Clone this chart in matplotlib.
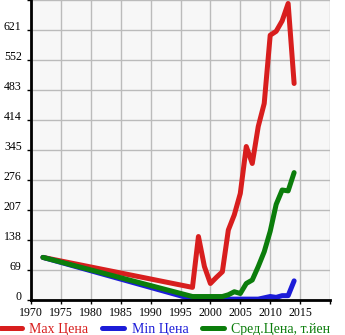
import matplotlib
matplotlib.use("Agg")
import matplotlib.pyplot as plt
from matplotlib.lines import Line2D

years_max = [1972, 1997, 1998, 1999, 2000, 2001, 2002, 2003, 2004, 2005, 2006,
             2007, 2008, 2009, 2010, 2011, 2012, 2013, 2014]
max_price = [98, 29, 146, 77, 38, 52, 65, 161, 196, 245, 353,
             314, 399, 452, 609, 618, 642, 682, 498]

years_min = [1972, 1997, 1998, 1999, 2000, 2001, 2002, 2003, 2004, 2005, 2006,
             2007, 2008, 2009, 2010, 2011, 2012, 2013, 2014]
min_price = [98, 2, 2, 2, 2, 2, 2, 2, 2, 2, 2,
             2, 2, 5, 8, 6, 10, 10, 44]

years_avg = [1972, 1997, 1998, 1999, 2000, 2001, 2002, 2003, 2004, 2005, 2006,
             2007, 2008, 2009, 2010, 2011, 2012, 2013, 2014]
avg_price = [98, 8, 8, 8, 8, 8, 8, 12, 19, 15, 38,
             46, 77, 111, 158, 220, 253, 251, 293]

y_ticks = [0, 69, 138, 207, 276, 345, 414, 483, 552, 621, 690]
y_labels = ["0", "69", "138", "207", "276", "345", "414", "483", "552", "621", ""]
x_ticks = [1970, 1975, 1980, 1985, 1990, 1995, 2000, 2005, 2010, 2015, 2020]
x_labels = ["1970", "1975", "1980", "1985", "1990", "1995", "2000", "2005", "2010", "2015", ""]

series_names = ["Max Цена", "Min Цена", "Сред.Цена, т.йен"]
colors = ["#d81e1e", "#1c1cd8", "#0b7d0b"]

plt.rcParams["font.family"] = ["Liberation Serif", "DejaVu Serif"]

W, H = 345, 335
fig = plt.figure(figsize=(W / 100, H / 100), dpi=100)
ax = fig.add_axes([31 / W, 35 / H, (330 - 31) / W, (335 - 35) / H])
ax.set_facecolor("#f7f7f7")

lw = 3.6
ax.plot(years_max, max_price, color=colors[0], lw=lw, solid_capstyle="round",
        solid_joinstyle="round", zorder=3)
ax.plot(years_min, min_price, color=colors[1], lw=lw, solid_capstyle="round",
        solid_joinstyle="round", zorder=4)
ax.plot(years_avg, avg_price, color=colors[2], lw=lw, solid_capstyle="round",
        solid_joinstyle="round", zorder=5)

ax.set_xlim(1970, 2020)
ax.set_ylim(0, 690)
ax.set_xticks(x_ticks)
ax.set_xticklabels(x_labels)
ax.set_yticks(y_ticks)
ax.set_yticklabels(y_labels)
ax.grid(True, color="#bbbbbb", lw=1.0, zorder=0)
ax.set_axisbelow(True)

for side in ("top", "right"):
    ax.spines[side].set_visible(False)
for side in ("left", "bottom"):
    ax.spines[side].set_color("black")
    ax.spines[side].set_linewidth(2.0)
    ax.spines[side].set_zorder(6)

ax.tick_params(axis="both", direction="out", length=3, width=1, color="black",
               labelsize=8.6, labelcolor="black")
ax.tick_params(axis="y", pad=3.7)
ax.tick_params(axis="x", pad=1.8)

# y labels sit on their grid lines
for lab in ax.get_yticklabels():
    lab.set_verticalalignment("baseline")

handles = [Line2D([0], [0], color=c, lw=lw, solid_capstyle="round") for c in colors]
leg = fig.legend(handles, series_names, loc="center", ncol=3,
                 bbox_to_anchor=(165 / W, 1 - 329 / H), frameon=False,
                 fontsize=10, handlelength=1.6, handletextpad=0.55,
                 columnspacing=0.95, borderaxespad=0, borderpad=0)
for txt, c in zip(leg.get_texts(), colors):
    txt.set_color(c)

fig.savefig("out.png", dpi=100)
